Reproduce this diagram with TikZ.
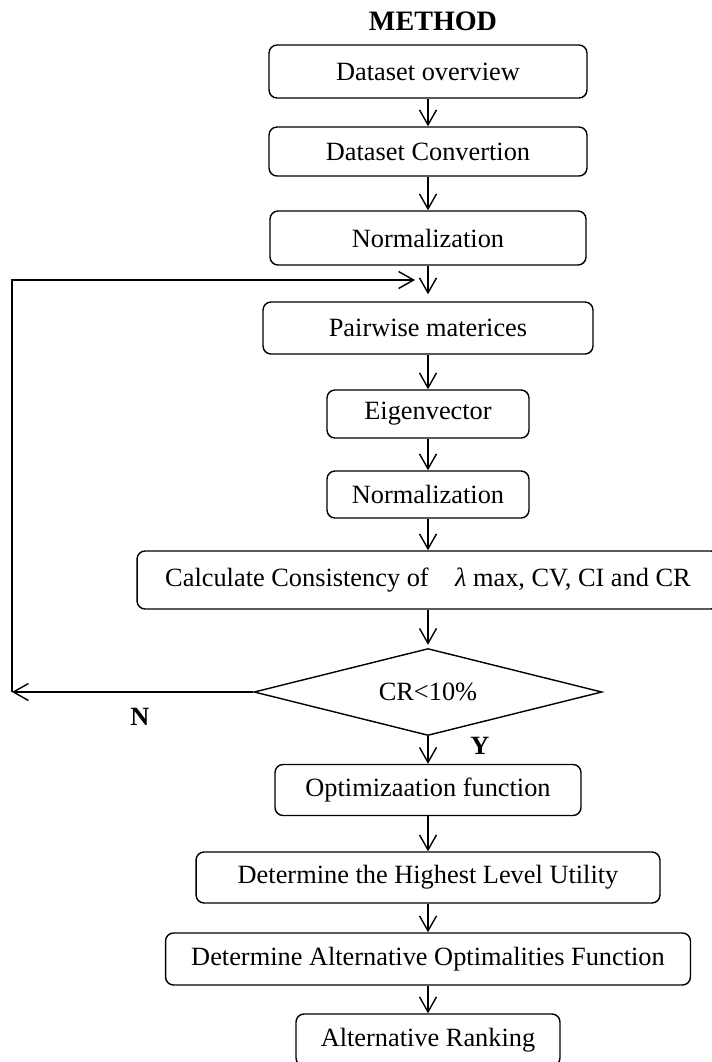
\documentclass[tikz,border=0pt]{standalone}
\usepackage{fontspec}
\setmainfont{Liberation Serif}
\usetikzlibrary{shapes.geometric,arrows.meta}

\tikzset{
  stage/.style={draw, rounded corners=0.16cm, line width=0.8pt, inner sep=0pt,
    font=\fontsize{15pt}{17pt}\selectfont},
  decision/.style={draw, diamond, line width=0.8pt, inner sep=0pt, aspect=4,
    font=\fontsize{15pt}{17pt}\selectfont},
  flow/.style={-{Straight Barb[length=0.3cm,width=0.34cm]}, line width=0.8pt},
  mark label/.style={font=\fontsize{15pt}{17pt}\selectfont\bfseries}
}

\begin{document}
\begin{tikzpicture}[x=0.02cm, y=-0.02cm]
                        \useasboundingbox (0,0) rectangle (712,1062);
                        \clip (0,0) rectangle (712,1062);

                        \node[mark label, font=\fontsize{16pt}{18pt}\selectfont\bfseries] (title) at (433,21){METHOD};

                        \node[stage, minimum width=6.36cm, minimum height=1.06cm] (overview) at (428,71.5){Dataset overview};
                        \node[stage, minimum width=6.36cm, minimum height=0.98cm] (convert) at (428,151.5){Dataset Convertion};
                        \node[stage, minimum width=6.32cm, minimum height=1.08cm] (norm1) at (428,238){Normalization};
                        \node[stage, minimum width=6.6cm, minimum height=1.04cm] (pairwise) at (428,328){Pairwise materices};
                        \node[stage, minimum width=4.04cm, minimum height=0.96cm] (eigen) at (428,414){Eigenvector};
                        \node[stage, minimum width=4.04cm, minimum height=0.94cm] (norm2) at (428,494.5){Normalization};
                        \node[stage, minimum width=11.64cm, minimum height=1.16cm] (consist) at (428,580){Calculate Consistency of\quad\textit{λ} max, CV, CI and CR};
                        \node[decision, minimum width=6.96cm, minimum height=1.74cm] (check) at (428,692){CR<10\%};
                        \node[stage, minimum width=6.12cm, minimum height=1.02cm] (optim) at (428,790){Optimizaation function};
                        \node[stage, minimum width=9.28cm, minimum height=1.02cm] (utility) at (428,877.5){Determine the Highest Level Utility};
                        \node[stage, minimum width=10.5cm, minimum height=1.04cm] (optimal) at (428,959){Determine Alternative Optimalities Function};
                        \node[stage, minimum width=5.28cm, minimum height=1.04cm] (ranking) at (428,1040){Alternative Ranking};

                        \node[mark label] (no) at (140,717){N};
                        \node[mark label] (yes) at (480,746){Y};

                        \coordinate (turn) at (12,692);
                        \coordinate (back) at (415,280);

                        \draw[flow] (overview) -- (convert);
                        \draw[flow] (convert) -- (norm1);
                        \draw[flow, shorten >= 0.14cm] (norm1) -- (pairwise);
                        \draw[flow] (pairwise) -- (eigen);
                        \draw[flow] (eigen) -- (norm2);
                        \draw[flow] (norm2) -- (consist);
                        \draw[flow, shorten >= 0.06cm] (consist) -- (check);
                        \draw[flow] (check) -- (optim);
                        \draw[flow] (optim) -- (utility);
                        \draw[flow] (utility) -- (optimal);
                        \draw[flow] (optimal) -- (ranking);

                        \draw[flow] (check) -- (turn);
                        \draw[flow] (turn) |- (back);
                    \end{tikzpicture}
\end{document}
